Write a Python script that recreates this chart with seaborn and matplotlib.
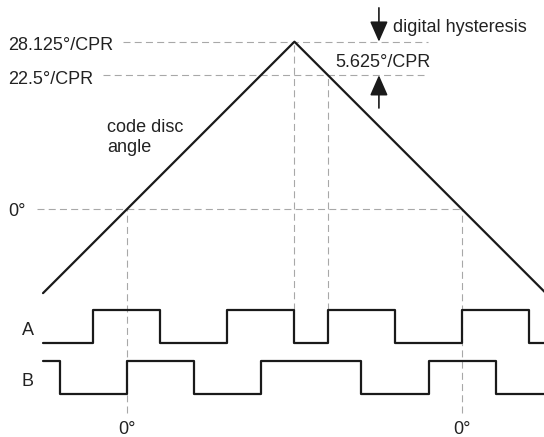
import numpy as np
import pandas as pd
import matplotlib
matplotlib.use("Agg")
import matplotlib.pyplot as plt
import seaborn as sns

# ---- data (angles in degrees/CPR) ----
tri_x = [-14.0625, 28.125, 70.3125]
tri_angle = [-14.0625, 28.125, -14.0625]

a_edges = [-14.0625, -5.625, 5.625, 16.875, 28.125, 33.75, 45.0, 56.25, 67.5, 70.3125]
a_state = [0, 1, 0, 1, 0, 1, 0, 1, 0, 0]

b_edges = [-14.0625, -11.25, 0.0, 11.25, 22.5, 39.375, 50.625, 61.875, 70.3125]
b_state = [1, 0, 1, 0, 1, 0, 1, 0, 0]

level_values = [28.125, 22.5, 0.0]
level_labels = ["28.125°/CPR", "22.5°/CPR", "0°"]
zero_crossings = [0.0, 56.25]

sns.set_theme(style="white")
plt.rcParams["font.family"] = ["Liberation Sans", "DejaVu Sans"]

fig = plt.figure(figsize=(5.44, 4.37), dpi=100)
ax = fig.add_axes([0, 0, 1, 1])

gray = "#a8a8a8"
dash = (0, (6.3, 3.8))
dlw = 0.8

# horizontal dashed reference lines
ax.hlines(level_values[0], -0.6, 50.6, colors=gray, linestyles=dash, lw=dlw, zorder=1)
ax.hlines(level_values[1], -4.0, 49.8, colors=gray, linestyles=dash, lw=dlw, zorder=1)
ax.hlines(level_values[2], -15.0, 56.25, colors=gray, linestyles=dash, lw=dlw, zorder=1)

# vertical dashed lines
A_base, B_base, amp = -22.5, -31.0, 5.625
ax.vlines(zero_crossings, -34.1, 0.0, colors=gray, linestyles=dash, lw=dlw, zorder=1)
ax.vlines(a_edges[4], A_base + amp, 28.125, colors=gray, linestyles=dash, lw=dlw, zorder=1)
ax.vlines(a_edges[5], A_base + amp, 22.5, colors=gray, linestyles=dash, lw=dlw, zorder=1)

black = "#1a1a1a"
lw = 1.6
tri = pd.DataFrame({"x": tri_x, "y": tri_angle})
sns.lineplot(data=tri, x="x", y="y", ax=ax, color=black, lw=lw, sort=False, zorder=3)

dfa = pd.DataFrame({"x": a_edges, "y": [A_base + amp * s for s in a_state]})
sns.lineplot(data=dfa, x="x", y="y", ax=ax, color=black, lw=lw, drawstyle="steps-post", zorder=3)
dfb = pd.DataFrame({"x": b_edges, "y": [B_base + amp * s for s in b_state]})
sns.lineplot(data=dfb, x="x", y="y", ax=ax, color=black, lw=lw, drawstyle="steps-post", zorder=3)

ax.set_xlim(-21.28, 70.0)
ax.set_ylim(-38.2, 35.12)
ax.axis("off")

fs = 13.0
tc = "#222222"
ax.text(-19.93, 26.73, level_labels[0], fontsize=fs, color=tc, va="baseline", ha="left")
ax.text(-19.93, 21.1, level_labels[1], fontsize=fs, color=tc, va="baseline", ha="left")
ax.text(-19.93, -1.1, level_labels[2], fontsize=fs, color=tc, va="baseline", ha="left")
ax.text(-3.3, 13.0, "code disc", fontsize=fs, color=tc, va="baseline", ha="left")
ax.text(-3.3, 9.6, "angle", fontsize=fs, color=tc, va="baseline", ha="left")
ax.text(44.6, 29.7, "digital hysteresis", fontsize=fs, color=tc, va="baseline", ha="left")
ax.text(34.9, 23.8, "5.625°/CPR", fontsize=fs, color=tc, va="baseline", ha="left")
ax.text(-16.6, -21.1, "A", fontsize=fs, color=tc, va="baseline", ha="center")
ax.text(-16.6, -29.6, "B", fontsize=fs, color=tc, va="baseline", ha="center")
for zx in zero_crossings:
    ax.text(zx, -37.75, "0°", fontsize=fs, color=tc, va="baseline", ha="center")

# hysteresis arrows
ap = dict(arrowstyle="-|>,head_length=1.25,head_width=0.55", mutation_scale=10,
          color=black, lw=1.2, shrinkA=0, shrinkB=0)
ax.annotate("", xy=(42.3, 28.125), xytext=(42.3, 33.8), arrowprops=ap)
ax.annotate("", xy=(42.3, 22.5), xytext=(42.3, 17.0), arrowprops=ap)

fig.savefig("out.png", dpi=100)
